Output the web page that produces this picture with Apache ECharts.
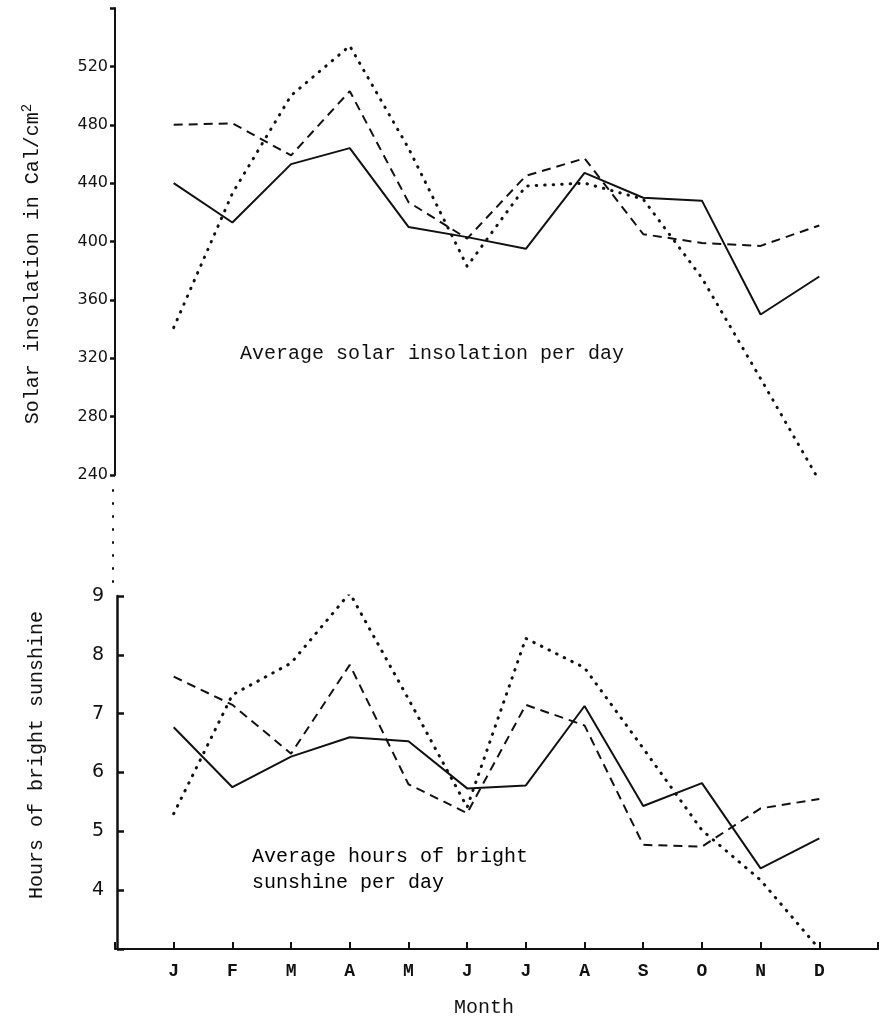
<!doctype html>
<html>
<head>
    <meta charset="utf-8">
    <title>Solar insolation and sunshine</title>
    <style type="text/css">
        body, html {
            width: 100%;
            height: 100%;
            margin: 0;
            padding: 0;
            background: #fff;
        }
    </style>
    <script src="https://cdn.jsdelivr.net/npm/echarts@6/dist/echarts.min.js"></script>
</head>
<body>
<div id="container" style="width: 881px; height: 1020px"></div>
<script type="text/javascript">
    // months and axis ticks
    const months = ['J', 'F', 'M', 'A', 'M', 'J', 'J', 'A', 'S', 'O', 'N', 'D'];
    const insolationTicks = [240, 280, 320, 360, 400, 440, 480, 520];
    const sunshineTicks = [4, 5, 6, 7, 8, 9];

    // average solar insolation per day (Cal/cm2)
    const insolationSolid = [440, 413, 453, 464, 410, 403, 395, 447, 430, 428, 350, 376];
    const insolationDashed = [480, 481, 459, 503, 427, 402, 445, 457, 405, 399, 397, 411];
    const insolationDotted = [341, 433, 500, 534, 464, 383, 438, 440, 429, 375, 306, 236];

    // average hours of bright sunshine per day
    const sunshineSolid = [6.77, 5.75, 6.27, 6.6, 6.53, 5.73, 5.78, 7.13, 5.43, 5.82, 4.37, 4.88];
    const sunshineDashed = [7.63, 7.15, 6.32, 7.83, 5.8, 5.31, 7.15, 6.8, 4.77, 4.74, 5.39, 5.55];
    const sunshineDotted = [5.3, 7.32, 7.86, 9.05, 7.25, 5.41, 8.28, 7.78, 6.41, 5.02, 4.17, 3.0];

    const mono = '"Liberation Mono", "DejaVu Sans Mono", monospace';
    const ink = '#111';

    const dom = document.getElementById('container');
    const myChart = echarts.init(dom, null, {renderer: 'canvas'});

    function pts(values) {
        return values.map(function (v, i) {
            return [i + 1, v];
        });
    }

    const solid = {color: ink, width: 2};
    const dashed = {color: ink, width: 2, type: [9, 6]};
    const dotted = {color: ink, width: 3, type: [0.5, 8], cap: 'round'};

    function line(values, style, idx) {
        return {
            type: 'line',
            data: pts(values),
            xAxisIndex: idx,
            yAxisIndex: idx,
            symbol: 'none',
            lineStyle: style,
            silent: true
        };
    }

    const monthAxis = {
        type: 'value',
        min: 0,
        max: 13,
        interval: 1,
        splitLine: {show: false}
    };

    const option = {
        animation: false,
        backgroundColor: '#fff',
        grid: [
            {left: 115, right: 3, top: 8, height: 467},
            {left: 115, right: 3, top: 596, bottom: 71},
            {left: 113, width: 10, top: 488, height: 94}
        ],
        xAxis: [
            Object.assign({}, monthAxis, {gridIndex: 0, show: false}),
            Object.assign({}, monthAxis, {
                gridIndex: 1,
                axisLine: {show: true, lineStyle: {color: ink, width: 2}},
                axisTick: {show: true, inside: true, length: 7, lineStyle: {color: ink, width: 2}},
                axisLabel: {
                    customValues: [1, 2, 3, 4, 5, 6, 7, 8, 9, 10, 11, 12],
                    formatter: function (v) { return months[v - 1] || ''; },
                    color: ink, fontFamily: mono, fontWeight: 'bold', fontSize: 18, margin: 13
                }
            }),
            {gridIndex: 2, type: 'value', show: false}
        ],
        yAxis: [
            {
                gridIndex: 0,
                type: 'value',
                min: 240,
                max: 560,
                interval: 40,
                offset: 2,
                splitLine: {show: false},
                axisLine: {show: true, lineStyle: {color: ink, width: 2}},
                axisTick: {show: true, inside: false, length: 5, lineStyle: {color: ink, width: 2.5}},
                axisLabel: {customValues: insolationTicks, color: ink, fontFamily: 'DejaVu Sans',
                    fontSize: 16, margin: 5}
            },
            {
                gridIndex: 1,
                type: 'value',
                min: 3,
                max: 9,
                interval: 1,
                offset: -2,
                splitLine: {show: false},
                axisLine: {show: true, lineStyle: {color: ink, width: 2.5}},
                axisTick: {show: true, inside: true, length: 7, lineStyle: {color: ink, width: 2.5}},
                axisLabel: {customValues: sunshineTicks, color: ink, fontFamily: 'DejaVu Sans',
                    fontSize: 19, margin: 13}
            },
            {
                gridIndex: 2,
                type: 'value',
                min: 0,
                max: 1,
                splitLine: {show: false},
                axisTick: {show: false},
                axisLabel: {show: false},
                axisLine: {show: true, lineStyle: {color: ink, width: 2, type: [1, 12], cap: 'round'}}
            }
        ],
        graphic: [
            {
                type: 'text', left: 240, top: 344,
                style: {text: 'Average solar insolation per day', font: '20px ' + mono, fill: ink}
            },
            {
                type: 'text', left: 252, top: 844,
                style: {text: 'Average hours of bright\nsunshine per day', font: '20px ' + mono,
                    fill: '#000', lineHeight: 26}
            },
            {
                type: 'text', left: 454, top: 998,
                style: {text: 'Month', font: '20px ' + mono, fill: ink}
            },
            {
                type: 'text', x: 33, y: 264, rotation: Math.PI / 2,
                style: {
                    text: '{t|Solar insolation in Cal/cm}{s|2}',
                    align: 'center', verticalAlign: 'middle',
                    rich: {
                        t: {font: '20px ' + mono, fill: ink, color: ink},
                        s: {font: '14px ' + mono, fill: ink, color: ink, verticalAlign: 'top', padding: [0, 0, 12, 0]}
                    }
                }
            },
            {
                type: 'text', x: 37, y: 755, rotation: Math.PI / 2,
                style: {text: 'Hours of bright sunshine', font: '20px ' + mono, fill: ink,
                    align: 'center', verticalAlign: 'middle'}
            }
        ],
        series: [
            line(insolationSolid, solid, 0),
            line(insolationDashed, dashed, 0),
            line(insolationDotted, dotted, 0),
            line(sunshineSolid, solid, 1),
            line(sunshineDashed, dashed, 1),
            line(sunshineDotted, dotted, 1)
        ]
    };

    myChart.setOption(option);
    window.addEventListener('resize', myChart.resize);
</script>
</body>
</html>
